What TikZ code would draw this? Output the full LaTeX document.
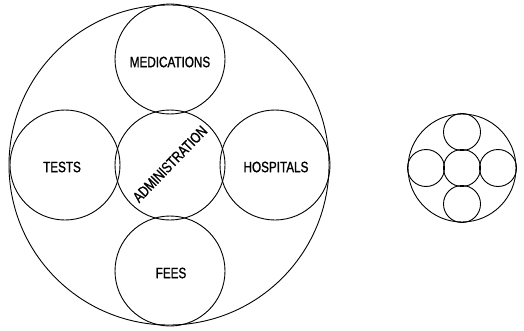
\documentclass[tikz,border=0pt]{standalone}
\usepackage{fontspec}
\setmainfont[FakeStretch=0.78,FakeBold=1.2]{Liberation Sans}
\begin{document}
\begin{tikzpicture}[x=1pt,y=1pt,
  ring/.style={draw=black,line width=0.9pt,circle,inner sep=0pt},
  lbl/.style={font=\fontsize{15}{15}\selectfont,inner sep=0pt}]
\useasboundingbox (0,0) rectangle (524,330);
% large diagram
\node[ring,minimum size=320] (outer) at (169,165) {};
\node[ring,minimum size=110] (admin) at (170,165) {};
\node[ring,minimum size=110] (med) at (170,271) {};
\node[ring,minimum size=110] (fees) at (170,59) {};
\node[ring,minimum size=110] (tests) at (65,165) {};
\node[ring,minimum size=110] (hosp) at (275,165) {};
\node[lbl] (tmed) at (170,268) {MEDICATIONS};
\node[lbl] (ttests) at (62,163) {TESTS};
\node[lbl] (thosp) at (276,163) {HOSPITALS};
\node[lbl] (tfees) at (171,57) {FEES};
\node[lbl,rotate=46] (tadmin) at (170,166) {ADMINISTRATION};
% small diagram
\node[ring,minimum size=108] (souter) at (462,162) {};
\node[ring,minimum size=37] (sc) at (462,162) {};
\node[ring,minimum size=37] (sn) at (462,198) {};
\node[ring,minimum size=37] (ss) at (462,126) {};
\node[ring,minimum size=37] (sw) at (426,162) {};
\node[ring,minimum size=37] (se) at (498,162) {};
\end{tikzpicture}
\end{document}
